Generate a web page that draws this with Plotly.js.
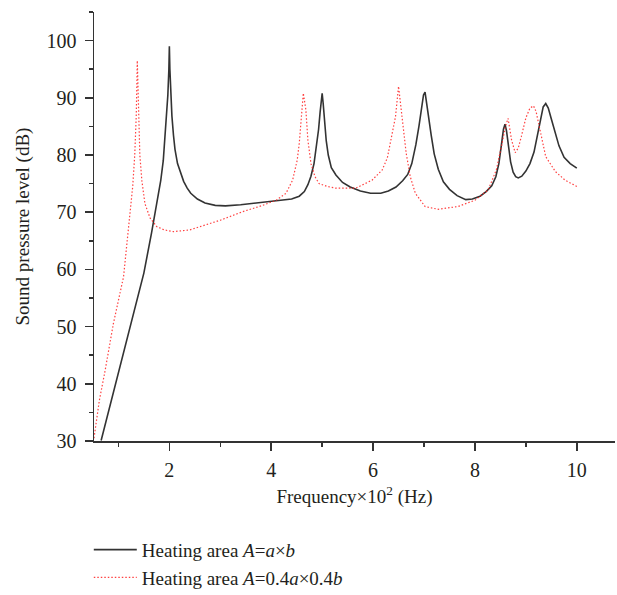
<!DOCTYPE html>
<html>
<head>
<meta charset="utf-8">
<script src="https://cdn.plot.ly/plotly-3.0.1.min.js"></script>
<style>html,body{margin:0;padding:0;background:#fff;}#chart{width:617px;height:595px;}</style>
</head>
<body>
<div id="chart"></div>
<script>
// Frequency (x10^2 Hz) and sound pressure level (dB)
const blackX = [0.66, 0.9, 1.1, 1.3, 1.5, 1.65, 1.75, 1.83, 1.88, 1.92, 1.95, 1.97, 1.99, 2.0, 2.01, 2.03, 2.05, 2.08, 2.11, 2.16, 2.22, 2.28, 2.35, 2.42, 2.55, 2.7, 2.9, 3.1, 3.4, 3.8, 4.1, 4.4, 4.55, 4.65, 4.72, 4.78, 4.84, 4.89, 4.93, 4.96, 4.99, 5.0, 5.02, 5.05, 5.08, 5.12, 5.18, 5.27, 5.4, 5.55, 5.75, 5.95, 6.15, 6.3, 6.45, 6.58, 6.68, 6.76, 6.84, 6.9, 6.95, 6.99, 7.02, 7.05, 7.09, 7.14, 7.2, 7.28, 7.38, 7.5, 7.65, 7.82, 7.95, 8.1, 8.22, 8.33, 8.41, 8.47, 8.52, 8.56, 8.59, 8.62, 8.66, 8.7, 8.75, 8.8, 8.85, 8.92, 9.0, 9.08, 9.16, 9.23, 9.29, 9.34, 9.39, 9.44, 9.5, 9.57, 9.65, 9.75, 9.87, 10.0];
const blackY = [30.1, 38.5, 45.4, 52.3, 59.4, 66.4, 71.5, 75.5, 79, 84, 87.5, 90.5, 95, 99, 95, 90, 86.8, 83.5, 81, 78.5, 76.8, 75.4, 74.2, 73.3, 72.3, 71.6, 71.2, 71.1, 71.3, 71.7, 72.0, 72.3, 72.8, 73.6, 74.8, 76.3, 78.5, 81.5, 84.5, 87.5, 90.5, 90.8, 89, 85.8, 82.5, 80, 77.8, 76.5, 75.2, 74.4, 73.7, 73.3, 73.3, 73.7, 74.4, 75.5, 76.6, 78.5, 81.8, 85, 88, 90.5, 91, 89, 86.5, 83.5, 80.2, 77.5, 75.3, 74, 72.9, 72.2, 72.3, 72.8, 73.6, 74.6, 76.2, 78.5, 81.8, 84.5, 85.4, 84.2, 81.5, 78.8, 77, 76.2, 76, 76.3, 77.2, 78.5, 80.5, 83.5, 86.5, 88.4, 89, 88.2, 86.3, 84, 81.6, 79.6, 78.5, 77.7];

const redX = [0.52, 0.625, 0.74, 0.9, 1.1, 1.22, 1.28, 1.32, 1.35, 1.37, 1.39, 1.42, 1.46, 1.52, 1.62, 1.75, 1.9, 2.08, 2.4, 2.8, 3.0, 3.44, 3.8, 4.1, 4.29, 4.42, 4.51, 4.55, 4.58, 4.63, 4.68, 4.72, 4.78, 4.86, 4.94, 5.1, 5.27, 5.66, 5.98, 6.18, 6.28, 6.34, 6.44, 6.5, 6.57, 6.65, 6.73, 6.83, 7.02, 7.28, 7.67, 8.0, 8.26, 8.42, 8.52, 8.6, 8.65, 8.72, 8.79, 8.85, 8.91, 9.0, 9.08, 9.15, 9.2, 9.26, 9.39, 9.58, 9.77, 10.0];
const redY = [30.5, 37.1, 42.4, 50.5, 58.7, 69, 74.5, 80, 87, 96.5, 88, 80, 75.5, 71.5, 69.0, 67.5, 66.9, 66.6, 66.9, 68.0, 68.6, 70.1, 71.1, 72.1, 73.3, 75.6, 79.1, 82, 85, 90.8, 87.9, 82.6, 78.5, 76.2, 75.0, 74.5, 74.2, 74.2, 75.6, 77.4, 79.5, 82.0, 86.7, 92.0, 86.1, 80.3, 76.2, 73.3, 71.0, 70.5, 71.0, 72.1, 73.9, 77.4, 81.5, 85.0, 86.4, 82.6, 80.4, 81.2, 83.2, 86.5, 88.2, 88.6, 87.6, 85.0, 79.7, 77.1, 75.6, 74.5];

const seriesNames = ["Heating area <i>A</i>=<i>a</i>×<i>b</i>", "Heating area <i>A</i>=0.4<i>a</i>×0.4<i>b</i>"];
const xTitle = "Frequency×10<sup>2</sup> (Hz)";
const yTitle = "Sound pressure level (dB)";

const FONT = "Liberation Serif, Times New Roman, serif";
const INK = "#231f20";

const traces = [
  {x: blackX, y: blackY, name: seriesNames[0], mode: "lines",
   line: {color: "#333333", width: 1.6}},
  {x: redX, y: redY, name: seriesNames[1], mode: "lines",
   line: {color: "rgba(255,30,30,0.85)", width: 1.2, dash: "1.5px,2px"}}
];

const axisCommon = {
  showline: true, linecolor: "#333333", linewidth: 1.5,
  showgrid: false, zeroline: false, mirror: false, automargin: false,
  ticks: "outside", ticklen: 8, tickwidth: 1.5, tickcolor: "#333333",
  tickfont: {family: FONT, size: 20, color: INK}
};

const layout = {
  width: 617, height: 595,
  margin: {l: 94, r: 2, t: 12, b: 154, autoexpand: false},
  paper_bgcolor: "#ffffff", plot_bgcolor: "#ffffff",
  font: {family: FONT, color: INK},
  xaxis: Object.assign({}, axisCommon, {
    range: [0.52, 10.75], tick0: 0, dtick: 2,
    minor: {dtick: 1, tick0: 0, ticklen: 4, tickwidth: 1.5, tickcolor: "#333333", ticks: "outside", showgrid: false},
    ticklabelstandoff: 2,
    title: {text: xTitle, font: {family: FONT, size: 19, color: INK}, standoff: 10}
  }),
  yaxis: Object.assign({}, axisCommon, {
    range: [30, 105], tick0: 0, dtick: 10,
    minor: {dtick: 5, tick0: 0, ticklen: 4, tickwidth: 1.5, tickcolor: "#333333", ticks: "outside", showgrid: false},
    ticklabelstandoff: 4,
    title: {text: yTitle, font: {family: FONT, size: 19, color: INK}, standoff: 12}
  }),
  showlegend: true,
  legend: {
    x: -0.01, xanchor: "left",
    yref: "container", y: 0.108, yanchor: "top",
    orientation: "v", bgcolor: "rgba(0,0,0,0)",
    font: {family: FONT, size: 19, color: INK},
    itemwidth: 43
  }
};

Plotly.newPlot("chart", traces, layout, {displayModeBar: false, staticPlot: true});
</script>
</body>
</html>
